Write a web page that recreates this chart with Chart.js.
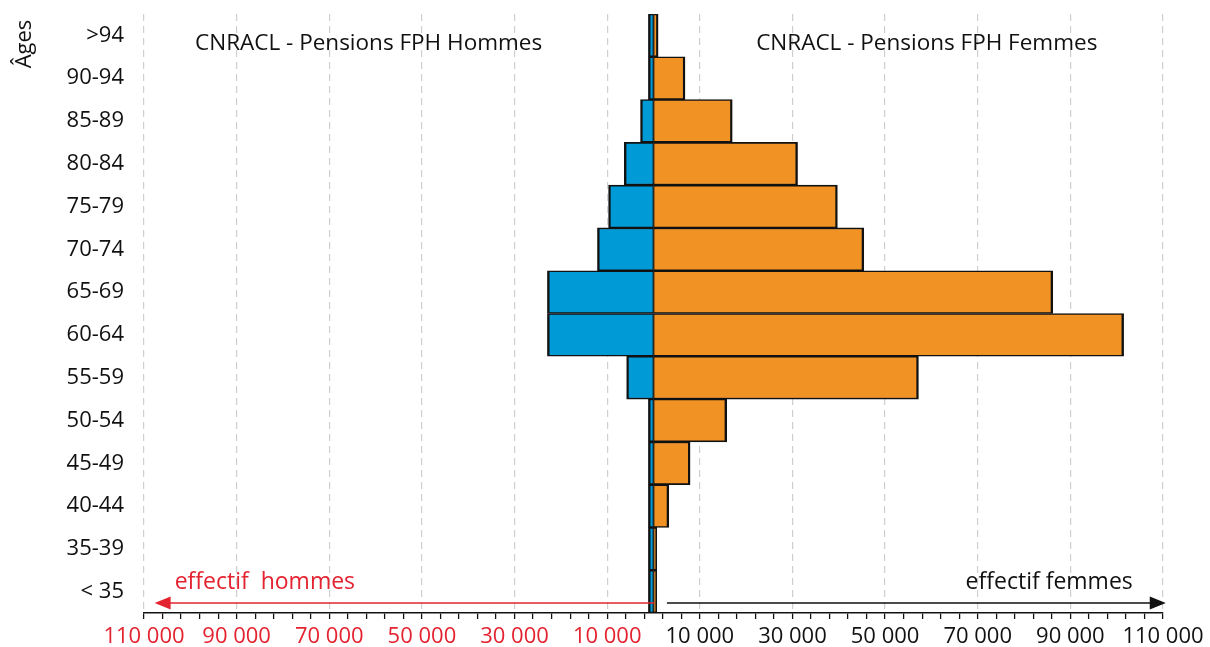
<!DOCTYPE html>
<html>
<head>
<meta charset="utf-8">
<script src="https://cdn.jsdelivr.net/npm/chart.js@4"></script>
<style>
  html, body { margin: 0; padding: 0; background: #fff; }
  #wrap { width: 1210px; height: 647px; }
</style>
</head>
<body>
<div id="wrap"><canvas id="pyramide"></canvas></div>
<script>
        const ageGroups = ['>94', '90-94', '85-89', '80-84', '75-79', '70-74', '65-69', '60-64', '55-59', '50-54', '45-49', '40-44', '35-39', '< 35'];
        const hommes = [1100, 1100, 2800, 6300, 9700, 12100, 22900, 22900, 5800, 1100, 1100, 1100, 1100, 1100];
        const femmes = [1000, 6800, 17000, 31100, 39700, 45400, 86200, 101500, 57200, 15800, 7900, 3300, 700, 700];
        const xTicks = [];
        for (let v = -110000; v <= 110000; v += 4000) xTicks.push(v);

        const RED = '#e3232f';
        const FONT = "'Open Sans', sans-serif";

        function isMajor(v) {
            return (Math.abs(v) - 10000) % 20000 === 0;
        }

        function fmt(v) {
            return String(Math.abs(v)).replace(/\B(?=(\d{3})+(?!\d))/g, ' ');
        }

        // textes et flèches
        const annotations = {
            id: 'annotations',
            afterDraw(chart) {
                const ctx = chart.ctx;
                const x = chart.scales.x;
                const area = chart.chartArea;
                ctx.save();
                ctx.font = '22.5px ' + FONT;
                ctx.textBaseline = 'middle';
                ctx.textAlign = 'center';
                ctx.fillStyle = '#111';
                ctx.fillText('CNRACL - Pensions FPH Hommes', x.getPixelForValue(-61500), 44);
                ctx.fillText('CNRACL - Pensions FPH Femmes', x.getPixelForValue(59000), 44);

                const ay = area.bottom - 10;
                ctx.font = '23px ' + FONT;
                // flèche hommes
                ctx.strokeStyle = RED;
                ctx.fillStyle = RED;
                ctx.lineWidth = 1.5;
                const r0 = x.getPixelForValue(200), r1 = x.getPixelForValue(-107700);
                ctx.beginPath(); ctx.moveTo(r0, ay); ctx.lineTo(r1 + 14, ay); ctx.stroke();
                ctx.beginPath(); ctx.moveTo(r1, ay); ctx.lineTo(r1 + 16, ay - 6.5); ctx.lineTo(r1 + 16, ay + 6.5); ctx.closePath(); ctx.fill();
                ctx.textAlign = 'left';
                ctx.fillText('effectif  hommes', r1 + 20, ay - 21);

                // flèche femmes
                ctx.strokeStyle = '#111';
                ctx.fillStyle = '#111';
                const f0 = x.getPixelForValue(2900), f1 = x.getPixelForValue(110600);
                ctx.beginPath(); ctx.moveTo(f0, ay); ctx.lineTo(f1 - 14, ay); ctx.stroke();
                ctx.beginPath(); ctx.moveTo(f1, ay); ctx.lineTo(f1 - 16, ay - 6.5); ctx.lineTo(f1 - 16, ay + 6.5); ctx.closePath(); ctx.fill();
                ctx.textAlign = 'right';
                ctx.fillText('effectif femmes', f1 - 33, ay - 21);

                // titre axe vertical
                ctx.font = '22px ' + FONT;
                ctx.translate(25, 44);
                ctx.rotate(-Math.PI / 2);
                ctx.textAlign = 'center';
                ctx.fillText('Âges', 0, 0);
                ctx.restore();
            }
        };

        const ctx = document.getElementById('pyramide').getContext('2d');
        new Chart(ctx, {
            type: 'bar',
            data: {
                labels: ageGroups,
                datasets: [{
                    label: 'Hommes',
                    data: hommes.map(v => -v),
                    backgroundColor: '#009ad6',
                    borderColor: '#111',
                    borderWidth: { top: 1.6, bottom: 1.6, left: 2.4, right: 1.2 },
                    borderSkipped: false
                }, {
                    label: 'Femmes',
                    data: femmes,
                    backgroundColor: '#f09224',
                    borderColor: '#111',
                    borderWidth: { top: 1.6, bottom: 1.6, left: 1.2, right: 2.4 },
                    borderSkipped: false
                }]
            },
            options: {
                indexAxis: 'y',
                responsive: true,
                maintainAspectRatio: false,
                animation: false,
                barPercentage: 1,
                categoryPercentage: 1,
                layout: { padding: { top: 14, right: 47, left: 0, bottom: 0 } },
                plugins: {
                    legend: { display: false },
                    tooltip: { enabled: false }
                },
                scales: {
                    x: {
                        type: 'linear',
                        stacked: true,
                        min: -110000,
                        max: 110000,
                        afterBuildTicks: s => { s.ticks = xTicks.map(v => ({ value: v })); },
                        afterFit: s => { s.height = 34; },
                        ticks: {
                            autoSkip: false,
                            maxRotation: 0,
                            padding: 5,
                            font: { family: FONT, size: 22 },
                            color: c => c.tick && c.tick.value < 0 ? RED : '#111',
                            callback: v => isMajor(v) ? fmt(v) : ''
                        },
                        grid: {
                            color: c => c.tick && isMajor(c.tick.value) ? '#cfcfcf' : 'transparent',
                            lineWidth: 1.2,
                            tickColor: '#111',
                            tickLength: 6,
                            tickWidth: 1.3
                        },
                        border: { display: true, color: '#111', width: 1.5, dash: [7, 5] }
                    },
                    y: {
                        stacked: true,
                        afterFit: s => { s.width = 144; },
                        grid: { display: false, drawTicks: true, tickLength: 20 },
                        border: { display: false },
                        ticks: {
                            padding: 0,
                            color: '#111',
                            font: { family: FONT, size: 22 }
                        }
                    }
                }
            },
            plugins: [annotations]
        });
</script>
</body>
</html>
